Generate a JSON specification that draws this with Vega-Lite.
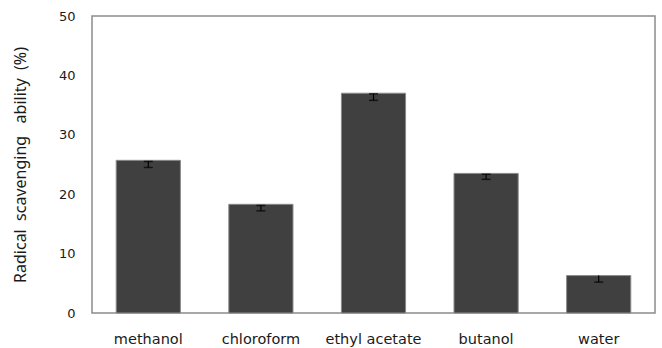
{
  "$schema": "https://vega.github.io/schema/vega-lite/v6.json",
  "width": 563,
  "height": 297,
  "autosize": {"type": "none"},
  "padding": {"left": 92, "top": 16, "right": 7, "bottom": 35},
  "background": "white",
  "config": {
    "view": {"stroke": "#8c8c8c", "strokeWidth": 1.5},
    "font": "DejaVu Sans"
  },
  "data": {
    "values": [
      {"solvent": "methanol", "value": 25.7, "low": 24.5, "high": 25.5},
      {"solvent": "chloroform", "value": 18.3, "low": 17.2, "high": 18.1},
      {"solvent": "ethyl acetate", "value": 37.0, "low": 35.8, "high": 36.9},
      {"solvent": "butanol", "value": 23.5, "low": 22.5, "high": 23.35},
      {"solvent": "water", "value": 6.3, "low": 5.2, "high": 6.3}
    ]
  },
  "encoding": {
    "x": {
      "field": "solvent",
      "type": "nominal",
      "sort": null,
      "scale": {"paddingInner": 0.43, "paddingOuter": 0.215},
      "axis": {
        "title": null,
        "labelAngle": 0,
        "ticks": false,
        "domain": false,
        "labelPadding": 19,
        "labelFontSize": 14.5,
        "labelColor": "#1a1a1a",
        "labelFont": "DejaVu Sans"
      }
    }
  },
  "layer": [
    {
      "mark": {"type": "bar", "color": "#404040", "stroke": "#8a8a8a", "strokeWidth": 1},
      "encoding": {
        "y": {
          "field": "value",
          "type": "quantitative",
          "scale": {"domain": [0, 50]},
          "axis": {
            "title": "Radical\u00a0\u00a0scavenging\u00a0\u00a0\u00a0ability\u00a0\u00a0(%)",
            "titleFont": "Noto Sans",
            "titleFontSize": 16,
            "titleFontWeight": "normal",
            "titleColor": "#1a1a1a",
            "titlePadding": 30,
            "values": [0, 10, 20, 30, 40, 50],
            "ticks": false,
            "grid": false,
            "domain": false,
            "labelPadding": 17,
            "labelFontSize": 13,
            "labelColor": "#1a1a1a"
          }
        }
      }
    },
    {
      "mark": {"type": "rule", "color": "#000000", "strokeWidth": 1.2},
      "encoding": {
        "y": {"field": "low", "type": "quantitative"},
        "y2": {"field": "high"}
      }
    },
    {
      "mark": {"type": "tick", "color": "#000000", "size": 9, "thickness": 1.5, "orient": "horizontal"},
      "encoding": {
        "y": {"field": "low", "type": "quantitative"}
      }
    },
    {
      "transform": [{"filter": "datum.high < datum.value"}],
      "mark": {"type": "tick", "color": "#000000", "size": 9, "thickness": 1.5, "orient": "horizontal"},
      "encoding": {
        "y": {"field": "high", "type": "quantitative"}
      }
    }
  ]
}
